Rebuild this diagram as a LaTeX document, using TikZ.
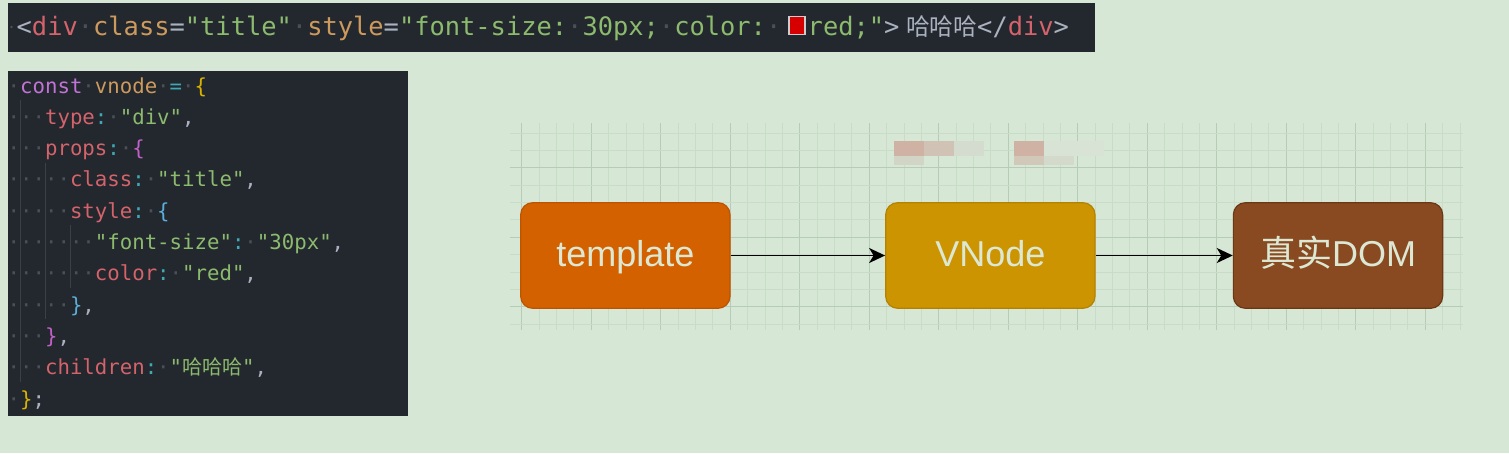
\documentclass[tikz,border=0pt]{standalone}
\usepackage{fontspec}
\setmainfont{Liberation Sans}
\newfontfamily\codefont{DejaVu Sans Mono}
\newfontfamily\cjk{Noto Sans CJK SC}
\usetikzlibrary{arrows.meta}
\definecolor{bgc}{HTML}{D6E7D5}
\definecolor{codebg}{HTML}{23272E}
\definecolor{cpur}{HTML}{C274D6}
\definecolor{ctan}{HTML}{CD9A5E}
\definecolor{cred}{HTML}{D4636B}
\definecolor{cgrn}{HTML}{8CBB6E}
\definecolor{cteal}{HTML}{3FA9B5}
\definecolor{cyel}{HTML}{D8B200}
\definecolor{cblu}{HTML}{5AAED8}
\definecolor{cmag}{HTML}{C060C8}
\definecolor{cgry}{HTML}{ABB2BF}
\definecolor{cdot}{HTML}{4A5058}
\definecolor{cguide}{HTML}{3B4048}
\definecolor{gmaj}{HTML}{B7CCB6}
\definecolor{gmin}{HTML}{C9DCC8}
\definecolor{labc}{HTML}{DCE8D4}
\definecolor{tplfill}{HTML}{D36100}
\definecolor{tpldraw}{HTML}{BE5300}
\definecolor{vnfill}{HTML}{CB9400}
\definecolor{vndraw}{HTML}{B38300}
\definecolor{domfill}{HTML}{894A21}
\definecolor{domdraw}{HTML}{6C3714}
\definecolor{sqdraw}{RGB}{205,205,205}
\definecolor{sqfill}{RGB}{215,0,0}
\definecolor{bl1}{RGB}{208,178,165}
\definecolor{bl2}{RGB}{208,194,180}
\definecolor{bl3}{RGB}{211,220,206}
\definecolor{bl4}{RGB}{210,213,198}
\definecolor{bl5}{RGB}{216,227,213}
\definecolor{bl6}{RGB}{210,200,185}
\definecolor{bl7}{RGB}{211,218,203}
\newcommand\colP[1]{\textcolor{cpur}{#1}}
\newcommand\colT[1]{\textcolor{ctan}{#1}}
\newcommand\colR[1]{\textcolor{cred}{#1}}
\newcommand\colG[1]{\textcolor{cgrn}{#1}}
\newcommand\colC[1]{\textcolor{cteal}{#1}}
\newcommand\colY[1]{\textcolor{cyel}{#1}}
\newcommand\colB[1]{\textcolor{cblu}{#1}}
\newcommand\colM[1]{\textcolor{cmag}{#1}}
\newcommand\colW[1]{\textcolor{cgry}{#1}}
\newcommand\wsd{\textcolor{cdot}{·}}
\tikzset{
  codeline/.style={anchor=base west, inner sep=0pt, font=\codefont\fontsize{20.7}{20.7}\selectfont},
  topline/.style={anchor=base west, inner sep=0pt, font=\codefont\fontsize{25.4}{25.4}\selectfont},
  guide/.style={draw=cguide, line width=1pt},
  box/.style={rounded corners=12pt, minimum width=209.3pt, minimum height=105.6pt, inner sep=0pt,
    line width=1.2pt, text=labc, font=\fontsize{36}{36}\selectfont, text height=27pt, text depth=6pt},
  arr/.style={-{Stealth[length=16pt,width=15pt,inset=4.5pt]}, line width=1.9pt, black}
}
\begin{document}
\begin{tikzpicture}[x=1pt,y=-1pt]
\useasboundingbox (0,0) rectangle (1509,453);
\fill[bgc] (0,0) rectangle (1509,453);

% ---------- top code bar ----------
\fill[codebg] (8,2.5) rectangle (1095,51.5);
\fill[cdot] (11.5,27) circle (1.3);
\node[topline] (topA) at (16.5,35) {\colW{<}\colR{div}\wsd\colT{class}\colW{=}\colG{"title"}\wsd\colT{style}\colW{=}\colG{"font-size:}\wsd\colG{30px;}\wsd\colG{color:}\wsd};
\node[draw=sqdraw, fill=sqfill, line width=1.5pt, minimum width=16pt, minimum height=18pt, inner sep=0pt] (sq) at (797,25.5) {};
\node[topline] (topB) at (807.5,35) {\colG{red;"}\colW{>}};
\node[anchor=base west, inner sep=0pt, font=\cjk\fontsize{23.7}{23.7}\selectfont, text=cgry] (topC) at (906,35) {哈哈哈};
\node[topline] (topD) at (977,35) {\colW{</}\colR{div}\colW{>}};

% ---------- code block ----------
\fill[codebg] (8,71) rectangle (408,415.5);
\draw[guide] (20,100) -- (20,381.7);
\draw[guide] (45,162.6) -- (45,319.1);
\draw[guide] (70,225.2) -- (70,287.8);
\node[codeline] (l1) at (7.5,93) {\wsd\colP{const}\wsd\colT{vnode}\wsd\colC{=}\wsd\colY{\{}};
\node[codeline] (l2) at (7.5,124.3) {\wsd\wsd\wsd\colR{type}\colC{:}\wsd\colG{"div"}\colW{,}};
\node[codeline] (l3) at (7.5,155.6) {\wsd\wsd\wsd\colR{props}\colC{:}\wsd\colM{\{}};
\node[codeline] (l4) at (7.5,186.9) {\wsd\wsd\wsd\wsd\wsd\colR{class}\colC{:}\wsd\colG{"title"}\colW{,}};
\node[codeline] (l5) at (7.5,218.2) {\wsd\wsd\wsd\wsd\wsd\colR{style}\colC{:}\wsd\colB{\{}};
\node[codeline] (l6) at (7.5,249.5) {\wsd\wsd\wsd\wsd\wsd\wsd\wsd\colG{"font-size"}\colC{:}\wsd\colG{"30px"}\colW{,}};
\node[codeline] (l7) at (7.5,280.8) {\wsd\wsd\wsd\wsd\wsd\wsd\wsd\colR{color}\colC{:}\wsd\colG{"red"}\colW{,}};
\node[codeline] (l8) at (7.5,312.1) {\wsd\wsd\wsd\wsd\wsd\colB{\}}\colW{,}};
\node[codeline] (l9) at (7.5,343.4) {\wsd\wsd\wsd\colM{\}}\colW{,}};
\node[codeline] (l10) at (7.5,374.7) {\wsd\wsd\wsd\colR{children}\colC{:}\wsd\colG{"{\cjk\fontsize{20}{20}\selectfont 哈哈哈}"}\colW{,}};
\node[codeline] (l11) at (7.5,406) {\wsd\colY{\}}\colW{;}};

% ---------- grid ----------
\foreach \i in {0,...,54} {
  \pgfmathsetmacro\xx{521.7+17.375*\i}
  \pgfmathtruncatemacro\mm{mod(\i,4)}
  \ifnum\mm=0 \draw[gmaj, line width=1.1pt] (\xx,123) -- (\xx,330);
  \else \draw[gmin, line width=0.7pt] (\xx,123) -- (\xx,330); \fi
}
\foreach \j in {0,...,11} {
  \pgfmathsetmacro\yy{132.95+17.375*\j}
  \pgfmathtruncatemacro\mm{mod(\j+2,4)}
  \ifnum\mm=0 \draw[gmaj, line width=1.1pt] (510,\yy) -- (1463,\yy);
  \else \draw[gmin, line width=0.7pt] (510,\yy) -- (1463,\yy); \fi
}

% ---------- blurred marks ----------
\fill[bl1] (894,141) rectangle (924,155.7);
\fill[bl2] (924,141) rectangle (954,155.7);
\fill[bl3] (954,141) rectangle (984,155.7);
\fill[bl4] (894,155.7) rectangle (924,165);
\fill[bl5] (1044,141) rectangle (1104,155.7);
\fill[bl1] (1014,141) rectangle (1044,155.7);
\fill[bl6] (1014,155.7) rectangle (1044,165);
\fill[bl7] (1044,155.7) rectangle (1074,165);

% ---------- flow ----------
\node[box, fill=tplfill, draw=tpldraw] (tpl) at (625.35,255.5) {template};
\node[box, fill=vnfill, draw=vndraw] (vn) at (990.35,255.5) {VNode};
\node[box, fill=domfill, draw=domdraw] (dom) at (1338,255.5) {{\cjk 真实}DOM};
\draw[arr] (tpl) -- (vn);
\draw[arr] (vn) -- (dom);
\end{tikzpicture}
\end{document}
